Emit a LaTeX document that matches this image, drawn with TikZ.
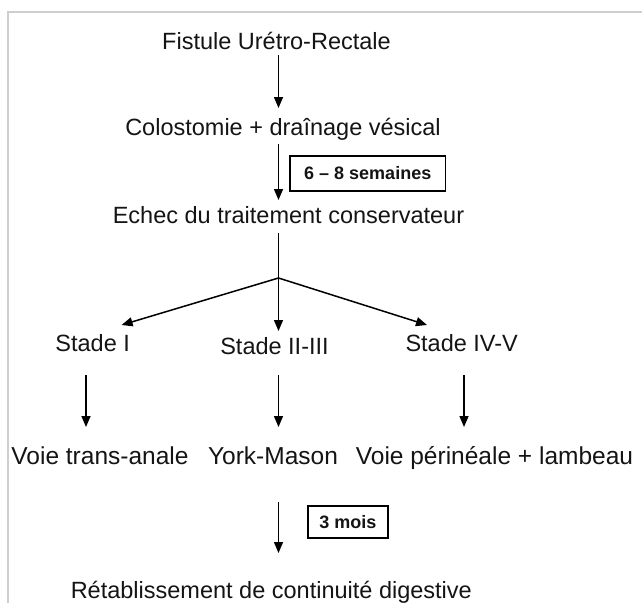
\documentclass[tikz,border=0pt]{standalone}
\usepackage{fontspec}
\setmainfont{Liberation Sans}
\usetikzlibrary{arrows.meta}
\definecolor{txt}{HTML}{141414}
\definecolor{frame}{HTML}{CFCFCF}
\tikzset{
  lbl/.style={anchor=base, inner sep=0pt, text=txt, font=\fontsize{23.5}{28}\selectfont},
  lblb/.style={anchor=base, inner sep=0pt, text=txt, font=\fontsize{24.5}{29}\selectfont},
  boxlbl/.style={draw=black, line width=1.1pt, inner sep=0pt, text=txt, font=\fontsize{18}{21}\bfseries\selectfont},
  arr/.style={line width=1.5pt, -{Triangle[length=11pt,width=9pt]}},
  ln/.style={line width=1.3pt}
}
\begin{document}
\begin{tikzpicture}[x=1pt,y=-1pt]
\useasboundingbox (0,0) rectangle (642,603);
% frame
\draw[frame, line width=2.5pt] (8,603) -- (8,12) -- (642,12);
% text nodes
\node[lbl] (fistule) at (276.5,49) {Fistule Urétro-Rectale};
\node[lbl] (colo) at (283,135.5) {Colostomie + draînage vésical};
\node[lbl] (echec) at (288.5,223) {Echec du traitement conservateur};
\node[lbl] (s1) at (92.7,351) {Stade I};
\node[lbl] (s2) at (274.5,354) {Stade II-III};
\node[lbl] (s3) at (461.7,351) {Stade IV-V};
\node[lblb] (v1) at (100,464) {Voie trans-anale};
\node[lblb] (v2) at (273,464) {York-Mason};
\node[lblb] (v3) at (494.5,464) {Voie périnéale + lambeau};
\node[lbl] (ret) at (271.3,598) {Rétablissement de continuité digestive};
% boxes
\node[boxlbl, minimum width=155.5pt, minimum height=35pt] (b1) at (367.75,173.5) {6 – 8 semaines};
\node[boxlbl, minimum width=80pt, minimum height=32pt] (b2) at (348,522) {3 mois};
% connector points
\coordinate (a1s) at (278.5,55);
\coordinate (a1e) at (278.5,108);
\coordinate (a2s) at (278.5,144);
\coordinate (a2e) at (278.5,200);
\coordinate (ls) at (278.5,233);
\coordinate (fork) at (278.5,278);
\coordinate (t1) at (121.6,325);
\coordinate (t2) at (278.5,331);
\coordinate (t3) at (427,325);
\coordinate (d1s) at (86,375);
\coordinate (d1e) at (86,427);
\coordinate (d2s) at (278.5,375);
\coordinate (d2e) at (278.5,427);
\coordinate (d3s) at (464,375);
\coordinate (d3e) at (464,427);
\coordinate (a3s) at (278.5,502);
\coordinate (a3e) at (278.5,553);
% connectors
\draw[arr] (a1s) -- (a1e);
\draw[arr] (a2s) -- (a2e);
\draw[ln] (ls) -- (fork);
\draw[arr] (fork) -- (t1);
\draw[arr] (fork) -- (t2);
\draw[arr] (fork) -- (t3);
\draw[arr] (d1s) -- (d1e);
\draw[arr] (d2s) -- (d2e);
\draw[arr] (d3s) -- (d3e);
\draw[arr] (a3s) -- (a3e);
\end{tikzpicture}
\end{document}
